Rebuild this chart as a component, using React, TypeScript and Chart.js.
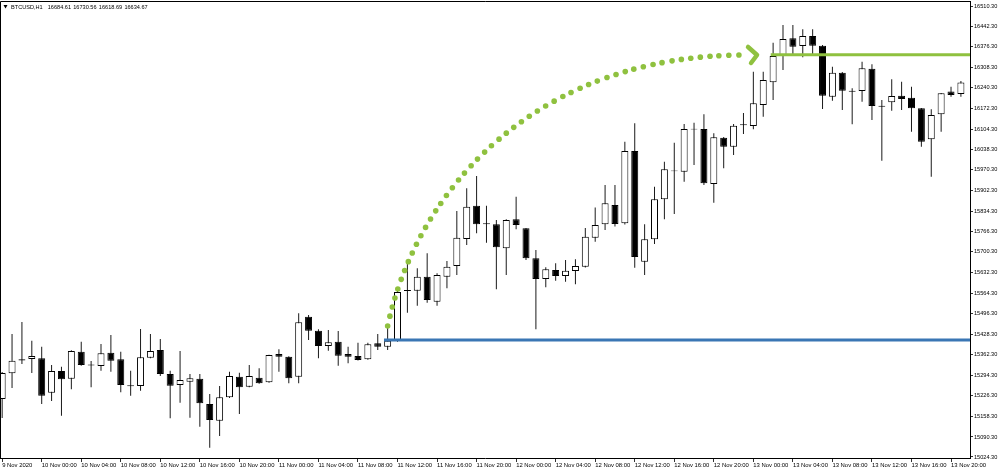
import React, { useEffect, useRef } from 'react';
import { Chart, registerables } from 'chart.js';

Chart.register(...registerables);

// ---------- header ----------
const symbolLabel = 'BTCUSD,H1';
const headerValues = ['16684.61', '16730.56', '16618.69', '16634.67'];

// ---------- candles (H1, first bar = 9 Nov 2020 20:00) ----------
const opens = [
  15215.4, 15300.1, 15346.0, 15347.2, 15349.5, 15236.2, 15307.7, 15282.3, 15371.3, 15329.0,
  15324.1, 15368.0, 15346.2, 15260.8, 15258.2, 15351.5, 15376.9, 15297.8, 15261.5, 15272.4,
  15282.3, 15198.9, 15143.9, 15221.0, 15288.9, 15255.9, 15285.6, 15270.4, 15363.7, 15354.8,
  15288.9, 15486.6, 15440.4, 15390.0, 15404.2, 15363.7, 15357.1, 15346.2, 15398.9, 15387.7,
  15406.5, 15574.5, 15572.2, 15618.4, 15536.0, 15618.4, 15653.6, 15742.6, 15852.3, 15794.5,
  15791.0, 15712.0, 15807.5, 15777.8, 15679.0, 15610.8, 15640.4, 15620.7, 15637.2, 15651.3,
  15746.9, 15791.0, 15854.6, 15794.3, 16032.5, 15667.8, 15741.6, 15873.4, 15968.5, 15964.3,
  16106.0, 16105.0, 15923.8, 16076.4, 16046.7, 16120.5, 16115.2, 16184.1, 16258.9, 16348.9,
  16403.9, 16378.5, 16411.5, 16379.5, 16211.5, 16290.5, 16231.2, 16230.2, 16303.7, 16181.5,
  16193.0, 16214.7, 16208.2, 16173.2, 16071.1, 16153.5, 16228.2, 16220.6,
];
const highs = [
  15304.4, 15429.6, 15469.1, 15407.5, 15387.7, 15327.4, 15321.8, 15376.0, 15404.2, 15340.6,
  15396.6, 15426.3, 15371.3, 15308.7, 15446.1, 15429.6, 15413.1, 15308.7, 15373.6, 15297.8,
  15297.8, 15231.9, 15258.5, 15305.4, 15302.1, 15327.4, 15316.6, 15361.0, 15379.2, 15356.0,
  15497.8, 15492.2, 15445.1, 15442.8, 15439.5, 15387.7, 15400.9, 15400.9, 15429.6, 15449.3,
  15577.8, 15670.1, 15646.1, 15695.5, 15629.6, 15670.1, 15834.9, 15909.6, 15950.2, 15852.3,
  15805.2, 15807.5, 15882.0, 15779.0, 15706.3, 15649.3, 15662.5, 15673.4, 15675.7, 15778.8,
  15846.4, 15920.5, 15920.5, 16063.2, 16123.8, 15791.0, 15914.9, 15997.3, 16059.9, 16121.5,
  16125.8, 16153.5, 16090.9, 16079.0, 16121.5, 16157.7, 16293.8, 16293.8, 16389.4, 16447.7,
  16447.7, 16433.5, 16433.5, 16382.0, 16310.3, 16293.0, 16239.1, 16326.8, 16318.2, 16200.6,
  16268.8, 16260.9, 16244.4, 16174.0, 16170.0, 16224.0, 16244.4, 16263.5,
];
const lows = [
  15152.8, 15251.6, 15330.7, 15301.1, 15198.9, 15208.8, 15160.4, 15247.4, 15325.0, 15254.0,
  15308.7, 15305.4, 15237.5, 15226.3, 15242.8, 15350.0, 15291.2, 15151.8, 15203.2, 15153.8,
  15124.1, 15054.9, 15093.5, 15219.0, 15165.9, 15254.0, 15266.0, 15269.0, 15305.4, 15267.1,
  15267.1, 15409.8, 15349.5, 15374.6, 15325.1, 15333.0, 15342.0, 15345.0, 15376.9, 15376.9,
  15404.0, 15499.8, 15522.8, 15532.7, 15522.8, 15580.2, 15624.0, 15722.8, 15761.4, 15730.4,
  15576.9, 15624.0, 15774.6, 15673.4, 15445.1, 15583.5, 15605.2, 15601.9, 15593.3, 15649.0,
  15733.7, 15772.2, 15783.8, 15790.0, 15648.0, 15624.0, 15726.1, 15807.5, 15825.0, 15931.4,
  15986.4, 15920.5, 15862.2, 15975.5, 16019.4, 16088.6, 16104.0, 16145.6, 16200.6, 16299.4,
  16351.2, 16341.3, 16351.2, 16170.9, 16198.3, 16167.6, 16120.5, 16195.0, 16134.7, 16000.6,
  16165.3, 16167.6, 16096.1, 16046.7, 15947.9, 16096.1, 16211.5, 16211.5,
];
const closes = [
  15301.1, 15341.6, 15342.0, 15357.1, 15226.3, 15307.7, 15280.3, 15373.6, 15327.4, 15325.5,
  15366.0, 15341.6, 15261.5, 15257.3, 15352.8, 15373.6, 15297.8, 15259.2, 15278.0, 15283.6,
  15201.2, 15146.2, 15221.0, 15291.2, 15254.0, 15291.2, 15267.1, 15360.4, 15354.8, 15283.6,
  15468.1, 15440.4, 15390.0, 15402.2, 15358.1, 15354.8, 15343.9, 15395.6, 15387.7, 15407.5,
  15568.0, 15571.0, 15618.4, 15541.6, 15624.0, 15651.3, 15746.9, 15849.0, 15791.0, 15791.5,
  15715.2, 15805.2, 15788.7, 15679.0, 15610.8, 15642.8, 15620.7, 15638.1, 15653.6, 15750.2,
  15788.7, 15860.2, 15792.0, 16032.5, 15683.3, 15741.6, 15873.4, 15972.2, 15965.5, 16105.0,
  16103.0, 15926.1, 16077.7, 16046.7, 16115.9, 16117.0, 16189.7, 16266.5, 16345.6, 16401.6,
  16376.2, 16411.5, 16379.5, 16214.7, 16290.5, 16231.2, 16228.0, 16305.0, 16180.8, 16178.5,
  16213.8, 16203.9, 16173.2, 16063.2, 16151.2, 16222.7, 16217.0, 16257.9,
];

// ---------- axes ----------
const timeTickIndex = [0, 4, 8, 12, 16, 20, 24, 28, 32, 36, 40, 44, 48, 52, 56, 60, 64, 68, 72, 76, 80, 84, 88, 92, 96];
const timeTickLabels = [
  '9 Nov 2020',
  '10 Nov 00:00', '10 Nov 04:00', '10 Nov 08:00', '10 Nov 12:00', '10 Nov 16:00', '10 Nov 20:00',
  '11 Nov 00:00', '11 Nov 04:00', '11 Nov 08:00', '11 Nov 12:00', '11 Nov 16:00', '11 Nov 20:00',
  '12 Nov 00:00', '12 Nov 04:00', '12 Nov 08:00', '12 Nov 12:00', '12 Nov 16:00', '12 Nov 20:00',
  '13 Nov 00:00', '13 Nov 04:00', '13 Nov 08:00', '13 Nov 12:00', '13 Nov 16:00', '13 Nov 20:00',
];
const priceTicks = [
  16510.3, 16442.3, 16376.3, 16308.3, 16240.3, 16172.3, 16104.3, 16038.3, 15970.3, 15902.3,
  15834.3, 15766.3, 15700.3, 15632.3, 15564.3, 15496.3, 15428.3, 15362.3, 15294.3, 15226.3,
  15158.3, 15090.3, 15024.3,
];
const xRange = [-0.2185, 97.92];
const yRange = [15021.0, 16526.8];

// ---------- drawn objects ----------
const supportPrice = 15409.8;
const supportStartIndex = 38.63;
const resistancePrice = 16349.8;
const resistanceStartIndex = 77.76;
const arrowIndex = [39.0, 42.07, 54.42, 75.16];
const arrowPrice = [15456.0, 15920.5, 16348.9, 16348.9];

const GREEN = '#8fc13f';
const BLUE = '#3a76b4';
const FONT = "'Liberation Sans', Arial, sans-serif";

export default function App() {
  const ref = useRef<HTMLCanvasElement>(null);

  useEffect(() => {
    const canvas = ref.current;
    if (!canvas) return;
    const idx = opens.map((_, i) => i);
    const bodyData = idx.map((i) => ({ x: i, y: [opens[i], closes[i]] }));
    const wickData = idx.map((i) => ({ x: i, y: [lows[i], highs[i]] }));
    const bodyFill = idx.map((i) => (closes[i] > opens[i] ? '#ffffff' : '#000000'));

    const overlay = {
      id: 'overlay',
      afterDatasetsDraw(chart: any) {
        const { ctx, chartArea: a, scales } = chart;
        const x = scales.x;
        const y = scales.y;
        ctx.save();
        ctx.beginPath();
        ctx.rect(a.left, a.top, a.right - a.left, a.bottom - a.top);
        ctx.clip();

        // support (blue) and resistance (green) lines
        ctx.lineWidth = 3;
        ctx.strokeStyle = BLUE;
        const sy = y.getPixelForValue(supportPrice);
        ctx.beginPath();
        ctx.moveTo(x.getPixelForValue(supportStartIndex), sy);
        ctx.lineTo(a.right, sy);
        ctx.stroke();
        ctx.strokeStyle = GREEN;
        const ry = y.getPixelForValue(resistancePrice);
        ctx.beginPath();
        ctx.moveTo(x.getPixelForValue(resistanceStartIndex), ry);
        ctx.lineTo(a.right, ry);
        ctx.stroke();

        // dotted curved arrow
        const P = arrowIndex.map((v, k) => ({ px: x.getPixelForValue(v), py: y.getPixelForValue(arrowPrice[k]) }));
        const bez = (t: number) => {
          const u = 1 - t;
          const c0 = u * u * u, c1 = 3 * u * u * t, c2 = 3 * u * t * t, c3 = t * t * t;
          return {
            x: c0 * P[0].px + c1 * P[1].px + c2 * P[2].px + c3 * P[3].px,
            y: c0 * P[0].py + c1 * P[1].py + c2 * P[2].py + c3 * P[3].py,
          };
        };
        const samples: { x: number; y: number; len: number }[] = [];
        let prev = bez(0);
        let len = 0;
        samples.push({ ...prev, len: 0 });
        const N = 600;
        for (let s = 1; s <= N; s++) {
          const p = bez(s / N);
          len += Math.hypot(p.x - prev.x, p.y - prev.y);
          samples.push({ ...p, len });
          prev = p;
        }
        ctx.fillStyle = GREEN;
        let j = 0;
        for (let d = 0; d <= len - 3; d += 9.6) {
          while (j < samples.length - 1 && samples[j].len < d) j++;
          const s = samples[j];
          ctx.beginPath();
          ctx.arc(s.x, s.y, 2.8, 0, Math.PI * 2);
          ctx.fill();
        }
        const end = P[3];
        ctx.strokeStyle = GREEN;
        ctx.lineWidth = 4.5;
        ctx.lineCap = 'round';
        ctx.lineJoin = 'round';
        ctx.beginPath();
        ctx.moveTo(end.px + 3, end.py - 8);
        ctx.lineTo(end.px + 12, end.py);
        ctx.lineTo(end.px + 6, end.py + 8);
        ctx.stroke();
        ctx.restore();
      },
      afterDraw(chart: any) {
        const { ctx, chartArea: a } = chart;
        ctx.save();
        // frame (top and left)
        ctx.strokeStyle = '#000';
        ctx.lineWidth = 1;
        ctx.beginPath();
        ctx.moveTo(a.left + 0.5, a.bottom);
        ctx.lineTo(a.left + 0.5, a.top + 0.5);
        ctx.lineTo(a.right, a.top + 0.5);
        ctx.stroke();
        // header
        ctx.fillStyle = '#000';
        ctx.beginPath();
        ctx.moveTo(3.5, 5);
        ctx.lineTo(7.5, 5);
        ctx.lineTo(5.5, 8.5);
        ctx.closePath();
        ctx.fill();
        ctx.font = `5.6px ${FONT}`;
        ctx.textBaseline = 'middle';
        ctx.textAlign = 'left';
        ctx.fillText(symbolLabel, 11, 7);
        const hx = [47.7, 73.2, 98.8, 124.4];
        headerValues.forEach((v, k) => ctx.fillText(v, hx[k], 7));
        ctx.restore();
      },
    };

    const chart = new Chart(canvas, {
      type: 'bar',
      data: {
        datasets: [
          {
            label: 'body',
            data: bodyData as any,
            backgroundColor: bodyFill,
            borderColor: '#000000',
            borderWidth: 1,
            borderSkipped: false,
            barThickness: 7,
            grouped: false,
            inflateAmount: 0,
            order: 1,
          } as any,
          {
            label: 'wick',
            data: wickData as any,
            backgroundColor: '#1a1a1a',
            borderWidth: 0,
            barThickness: 1,
            grouped: false,
            inflateAmount: 0,
            order: 2,
          } as any,
        ],
      },
      options: {
        animation: false,
        responsive: false,
        devicePixelRatio: 1,
        events: [],
        layout: { padding: { left: 0, right: 0, top: 1, bottom: 0 } },
        plugins: { legend: { display: false }, tooltip: { enabled: false }, title: { display: false } },
        scales: {
          x: {
            type: 'linear',
            position: 'bottom',
            min: xRange[0],
            max: xRange[1],
            offset: false,
            grid: { display: true, drawOnChartArea: false, drawTicks: true, tickLength: 4, color: '#333', offset: false },
            border: { display: true, color: '#000', width: 1 },
            ticks: {
              autoSkip: false,
              maxRotation: 0,
              minRotation: 0,
              align: 'start',
              padding: 0,
              color: '#000',
              font: { family: FONT, size: 5.9 },
              callback: (_v: any, i: number) => timeTickLabels[i],
            },
            afterBuildTicks: (scale: any) => {
              scale.ticks = timeTickIndex.map((v) => ({ value: v }));
            },
            afterFit: (scale: any) => {
              scale.height = 14;
              scale.paddingLeft = 0;
              scale.paddingRight = 0;
            },
          } as any,
          y: {
            type: 'linear',
            position: 'right',
            min: yRange[0],
            max: yRange[1],
            grid: { display: true, drawOnChartArea: false, drawTicks: true, tickLength: 3, color: '#333' },
            border: { display: true, color: '#000', width: 1 },
            ticks: {
              autoSkip: false,
              padding: 1,
              color: '#000',
              font: { family: FONT, size: 5.6 },
              callback: (v: any) => Number(v).toFixed(2),
            },
            afterBuildTicks: (scale: any) => {
              scale.ticks = priceTicks.map((v) => ({ value: v }));
            },
            afterFit: (scale: any) => {
              scale.width = 30;
              scale.paddingTop = 0;
              scale.paddingBottom = 0;
            },
          } as any,
        },
      },
      plugins: [overlay],
    });
    return () => chart.destroy();
  }, []);

  return (
    <div style={{ position: 'fixed', left: 0, top: 0, width: 1000, height: 472, background: '#ffffff' }}>
      <canvas ref={ref} width={1000} height={472} style={{ display: 'block', width: 1000, height: 472 }} />
    </div>
  );
}
